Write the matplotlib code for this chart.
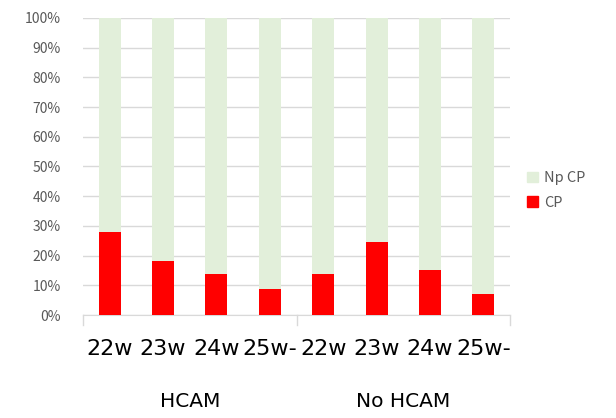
import numpy as np
import matplotlib
matplotlib.use("Agg")
import matplotlib.pyplot as plt
from matplotlib.ticker import PercentFormatter
from matplotlib.patches import Patch

plt.rcParams["font.family"] = ["Noto Sans CJK JP", "DejaVu Sans"]

# data (percent)
weeks = ["22w", "23w", "24w", "25w-", "22w", "23w", "24w", "25w-"]
groups = ["HCAM", "No HCAM"]
cp = [28.0, 18.2, 13.7, 8.8, 13.7, 24.6, 15.2, 7.1]
np_cp = [100 - v for v in cp]

GREEN = "#e2efda"
RED = "#ff0000"
GRID = "#d9d9d9"
TXT = "#595959"

fig = plt.figure(figsize=(6.16, 4.18), dpi=100)
ax = fig.add_axes([0.1347, 0.2464, 0.6933, 0.7106])

x = np.arange(len(weeks))
ax.bar(x, cp, width=0.41, color=RED, zorder=3)
ax.bar(x, np_cp, bottom=cp, width=0.41, color=GREEN, zorder=3)

ax.set_xlim(-0.5, len(weeks) - 0.5)
ax.set_ylim(0, 100)
ax.set_yticks(np.arange(0, 101, 10))
ax.yaxis.set_major_formatter(PercentFormatter(decimals=0))
ax.grid(axis="y", color=GRID, linewidth=1, zorder=0)
for s in ["top", "right", "left"]:
    ax.spines[s].set_visible(False)
ax.spines["bottom"].set_color(GRID)
ax.tick_params(axis="y", length=0, labelsize=10, labelcolor=TXT, pad=16)
ax.tick_params(axis="x", length=0, pad=17)
ax.set_xticks(x)
ax.set_xticklabels(weeks, color="#000000", family="DejaVu Sans", fontsize=16)

# group separators and labels
trans = ax.get_xaxis_transform()
for xs in [-0.5, 3.5, 7.5]:
    ax.plot([xs, xs], [0, -0.035], transform=trans, color=GRID, lw=1, clip_on=False)
ax.text(1.5, -0.29, groups[0], transform=trans, ha="center", va="center",
        fontsize=14.5, family="DejaVu Sans")
ax.text(5.5, -0.29, groups[1], transform=trans, ha="center", va="center",
        fontsize=14.5, family="DejaVu Sans")

handles = [Patch(color=GREEN), Patch(color=RED)]
fig.legend(handles, ["Np CP", "CP"], loc="center left", bbox_to_anchor=(0.835, 0.545),
           frameon=False, fontsize=10.5, labelcolor=TXT, handlelength=0.7, handleheight=0.7,
           handletextpad=0.45, labelspacing=0.75)

fig.savefig("out.png", dpi=100)
